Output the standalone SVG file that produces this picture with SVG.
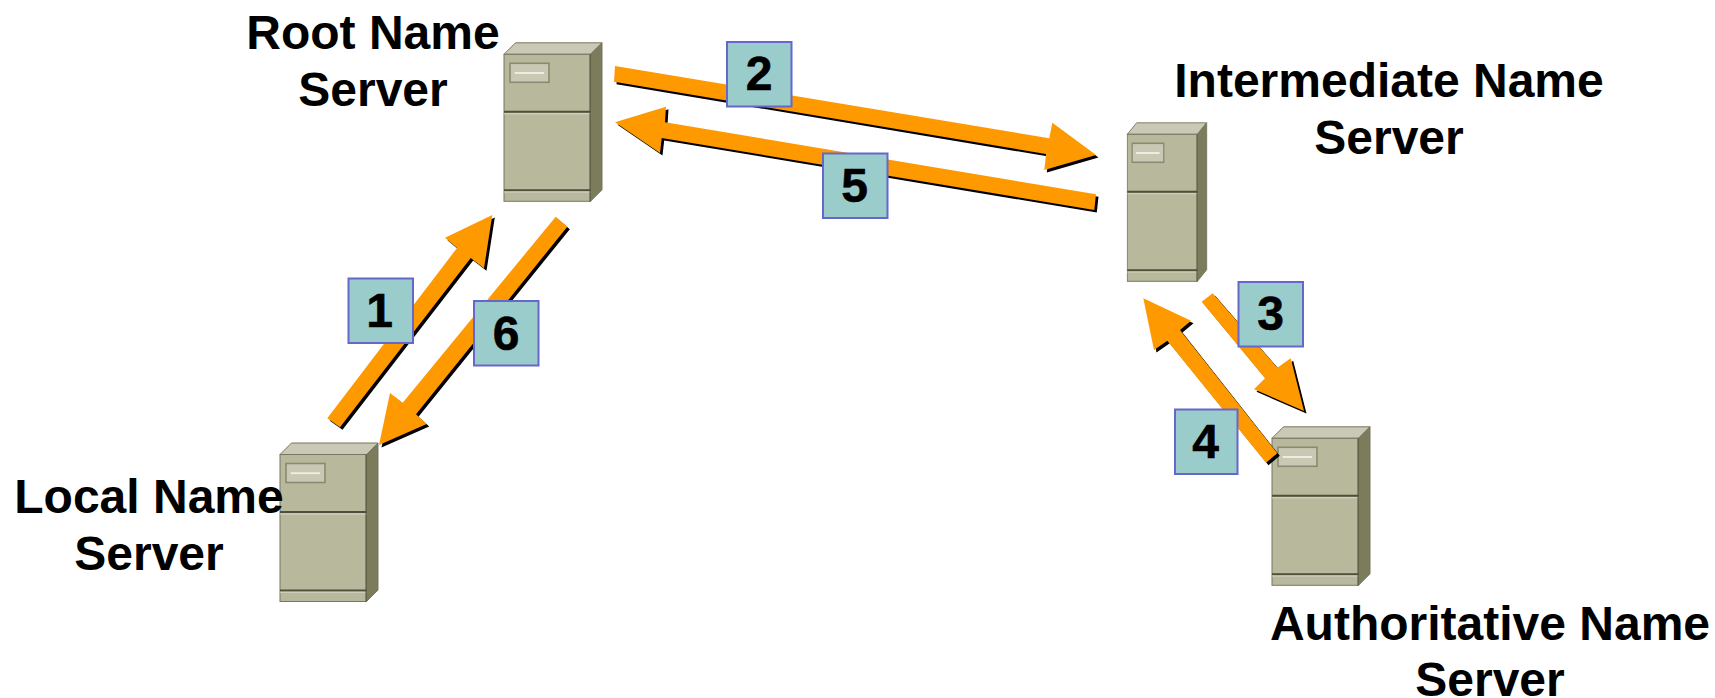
<svg xmlns="http://www.w3.org/2000/svg" xmlns:xlink="http://www.w3.org/1999/xlink" width="1715" height="698" viewBox="0 0 1715 698">
<style>
.t{font-family:"Liberation Sans",Arial,sans-serif;font-weight:700;font-size:48px;fill:#000;text-anchor:middle}
.d{stroke:#000;stroke-width:.6}
.a{fill:#FF9900}
.s{fill:#000;transform:translate(2.5px,2.5px)}
.box{fill:#9ACCCC;stroke:#6666CC;stroke-width:2}
.f{fill:#B8B89C;stroke:#77775F;stroke-width:1}
.top{fill:#C9C9B5;stroke:#77775F;stroke-width:1}
.side{fill:#7C7C5C;stroke:#77775F;stroke-width:1}
.dk{stroke:#4E4E3A;stroke-width:2;fill:none}
.hl{stroke:#D6D6C6;stroke-width:1;fill:none}
.p{fill:#C8C8B4;stroke:#8A8A72;stroke-width:1.6}
.pl{stroke:#F0F0E6;stroke-width:1.8;fill:none}
</style>
<defs>
<g id="srv">
<polygon class="top" points="0,0 11.5,-11.5 98,-11.5 86.5,0"/>
<polygon class="side" points="86.5,0 98,-11.5 98,135.5 86.5,147"/>
<rect class="f" x="0" y="0" width="86.5" height="147"/>
<path class="dk" d="M0,57.5H86.5M0,136H86.5"/>
<path class="hl" d="M0,59.5H86.5M0,137.7H86.5"/>
<path class="dk" style="stroke-width:1" d="M86,0V147"/>
<rect class="p" x="6" y="9" width="39" height="19"/>
<path class="pl" d="M10.7,18.7H40"/>
</g>
<g id="arrows">
<polygon id="a1" points="327.3,418.3 457,248 445,237.7 492.3,215 484,268.3 470.7,258 340,427.3"/>
<polygon id="a2" points="615,66 1049.3,138.3 1052.3,122.7 1096,155 1044.3,170 1046,154 614,81.7"/>
<polygon id="a3" points="1212.7,293.3 1277.3,367.7 1290.7,358.3 1304,411 1254,389.3 1265,378.3 1201.7,301.7"/>
<polygon id="a4" points="1277.3,453.3 1180,330 1191,320.7 1143.3,298.3 1154,350 1167.3,340.7 1266,462.7"/>
<polygon id="a5" points="1096,194.3 665,122.3 666,106.7 615,122.3 660,153 661.7,138 1094.3,210"/>
<polygon id="a6" points="555.7,216.7 402.7,402.7 390,393 379,445 426.7,424 416,414.3 567.3,226.7"/>
</g>
</defs>
<rect width="1715" height="698" fill="#fff"/>
<g id="node-root">
<use xlink:href="#srv" href="#srv" x="504" y="54.3"/>
<text class="t" x="373" y="49">Root Name</text>
<text class="t" x="373" y="106">Server</text>
</g>
<g id="node-intermediate">
<use xlink:href="#srv" href="#srv" transform="translate(1127.3,134.3) scale(0.81,1)"/>
<text class="t" x="1389" y="97">Intermediate Name</text>
<text class="t" x="1389" y="154">Server</text>
</g>
<g id="node-local">
<use xlink:href="#srv" href="#srv" x="280" y="454.5"/>
<text class="t" x="149" y="513">Local Name</text>
<text class="t" x="149" y="570">Server</text>
</g>
<g id="node-authoritative">
<use xlink:href="#srv" href="#srv" x="1272" y="438.3"/>
<text class="t" x="1490" y="640">Authoritative Name</text>
<text class="t" x="1490" y="696">Server</text>
</g>
<g id="connectors">
<use href="#a1" class="s"/><use href="#a2" class="s"/><use href="#a3" class="s"/><use href="#a4" class="s"/><use href="#a5" class="s"/><use href="#a6" class="s"/>
<use href="#a1" class="a"/><use href="#a2" class="a"/><use href="#a3" class="a"/><use href="#a4" class="a"/><use href="#a5" class="a"/><use href="#a6" class="a"/>
</g>
<g id="label-1"><rect class="box" x="348.5" y="278.5" width="64.5" height="64.5"/><text class="t d" x="379.7" y="327">1</text></g>
<g id="label-2"><rect class="box" x="727" y="42" width="64.5" height="64.5"/><text class="t d" x="759.2" y="90">2</text></g>
<g id="label-3"><rect class="box" x="1238.5" y="282" width="64.5" height="64.5"/><text class="t d" x="1270.7" y="330">3</text></g>
<g id="label-4"><rect class="box" x="1175" y="409.5" width="62.5" height="64.5"/><text class="t d" x="1205.7" y="458">4</text></g>
<g id="label-5"><rect class="box" x="823" y="153.5" width="64.5" height="64.5"/><text class="t d" x="854.7" y="202">5</text></g>
<g id="label-6"><rect class="box" x="474" y="301" width="64.5" height="64.5"/><text class="t d" x="506.2" y="350">6</text></g>
</svg>
